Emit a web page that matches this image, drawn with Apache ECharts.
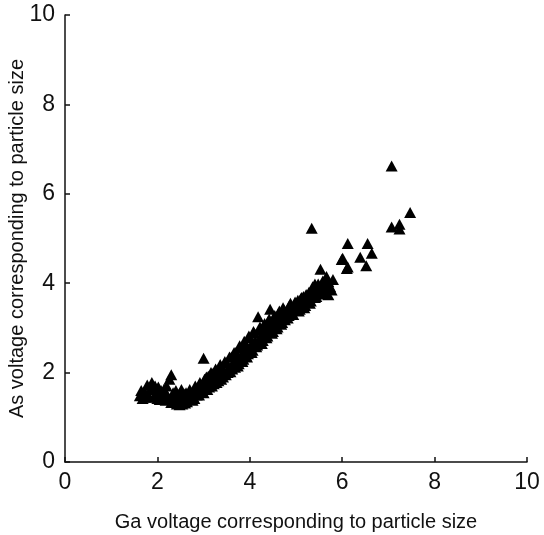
<!DOCTYPE html>
<html>
<head>
<meta charset="utf-8">
<script src="https://cdn.jsdelivr.net/npm/echarts@6/dist/echarts.min.js"></script>
<style>html,body{margin:0;padding:0;background:#fff}#c{width:544px;height:535px}</style>
</head>
<body>
<div id="c"></div>
<script>
// [Ga voltage, As voltage]
var lowCluster = [[1.62,1.48],[1.68,1.42],[1.72,1.58],[1.78,1.72],[1.80,1.50],[1.85,1.62],[1.88,1.78],[1.92,1.45],[1.97,1.55],[2.02,1.68],[2.05,1.40],[2.10,1.52],[2.14,1.62],[2.18,1.38],[2.22,1.48],[2.26,1.85],[2.30,1.95],[2.30,1.33],[2.34,1.55],[2.38,1.42],[2.42,1.30],[2.46,1.50],[2.50,1.38],[2.52,1.62],[2.56,1.45],[2.60,1.32],[2.62,1.55],[2.66,1.42],[2.70,1.62],[2.72,1.48],[2.76,1.38],[2.78,1.58],[2.82,1.70],[2.85,1.50],[2.88,1.62],
  [1.65,1.60],[1.75,1.45],[1.95,1.70],[2.00,1.42],[2.08,1.60],[2.15,1.45],[2.20,1.70],[2.28,1.40],[2.35,1.35],[2.40,1.60],[2.44,1.40],[2.48,1.28],[2.54,1.30],[2.58,1.52],[2.64,1.35],[2.68,1.55],[2.74,1.45],[2.80,1.42],[2.84,1.62],[2.90,1.50],[2.94,1.70]];
var midBand = [[2.92,1.78],[2.95,1.58],[2.98,1.68],[3.00,2.32],[3.02,1.85],[3.05,1.72],[3.08,1.62],[3.10,1.92],[3.14,1.80],[3.18,1.70],[3.20,1.98],[3.24,1.86],[3.28,1.78],[3.30,2.05],[3.34,1.95],[3.38,1.85],[3.40,2.12],[3.44,2.02],[3.48,1.95],[3.50,2.22],[3.54,2.10],[3.58,2.02],[3.60,2.35],[3.64,2.22],[3.68,2.12],[3.70,2.45],[3.72,2.30],[3.76,2.20],[3.80,2.55],[3.82,2.40],[3.86,2.30],[3.90,2.65],[3.92,2.50],[3.96,2.42],[4.00,2.78],[4.02,2.60],
  [3.00,1.55],[3.04,1.62],[3.06,1.90],[3.12,1.68],[3.16,2.00],[3.22,1.75],[3.26,2.08],[3.32,1.82],[3.36,2.18],[3.42,1.90],[3.46,2.25],[3.52,2.00],[3.56,2.35],[3.62,2.08],[3.66,2.45],[3.74,2.15],[3.78,2.60],[3.84,2.25],[3.88,2.70],[3.94,2.35],[3.98,2.82]];
var upperBand = [[4.06,2.50],[4.10,2.88],[4.12,2.70],[4.16,2.62],[4.18,3.25],[4.20,2.95],[4.24,2.80],[4.28,2.72],[4.30,3.05],[4.34,2.92],[4.38,2.82],[4.40,3.15],[4.44,3.42],[4.46,3.00],[4.50,2.92],[4.52,3.22],[4.56,3.10],[4.60,3.02],[4.62,3.32],[4.66,3.20],[4.70,3.12],[4.74,3.40],[4.78,3.30],[4.82,3.22],[4.86,3.50],[4.90,3.38],[4.94,3.30],[4.98,3.58],
  [4.04,2.45],[4.08,2.92],[4.14,2.58],[4.22,3.02],[4.26,2.65],[4.32,3.10],[4.36,2.78],[4.42,3.20],[4.48,2.88],[4.54,3.28],[4.58,2.98],[4.64,3.38],[4.68,3.08],[4.72,3.45],[4.76,3.18],[4.84,3.28],[4.88,3.55],[4.96,3.40]];
var topBand = [[5.02,3.45],[5.06,3.38],[5.10,3.65],[5.12,3.68],[5.14,3.52],[5.18,3.45],[5.22,3.75],[5.26,3.62],[5.30,3.55],[5.34,3.85],[5.38,3.72],[5.41,3.98],[5.41,3.68],[5.46,3.80],[5.50,3.90],[5.53,4.31],[5.56,3.96],[5.60,3.82],[5.63,3.85],[5.66,4.15],[5.70,4.03],[5.70,3.74],[5.74,3.92],[5.77,3.85],[5.80,4.08],
  [5.04,3.62],[5.08,3.42],[5.16,3.70],[5.20,3.50],[5.28,3.80],[5.32,3.60],[5.36,3.92],[5.44,3.70],[5.48,3.98],[5.52,3.78],[5.58,4.05],[5.62,3.76],[5.68,3.88]];
var outliers = [[5.34,5.23],[5.99,4.53],[6.01,4.56],[6.10,4.33],[6.12,4.36],[6.12,4.89],[6.39,4.58],[6.52,4.39],[6.55,4.89],[6.64,4.67],[7.07,6.62],[7.07,5.26],[7.24,5.32],[7.24,5.21],[7.47,5.58]];

var allPoints = lowCluster.concat(midBand, upperBand, topBand, outliers);
var chart = echarts.init(document.getElementById('c'));
var font = 'Liberation Sans, Arial, sans-serif';
function axis(extra) {
  return echarts.util.merge({
    type: 'value', min: 0, max: 10, interval: 2,
    axisLine: {show: true, lineStyle: {color: '#111', width: 1.5}},
    axisTick: {show: true, inside: true, length: 5, lineStyle: {color: '#111', width: 1.5}},
    splitLine: {show: false},
    axisLabel: {color: '#111', fontSize: 23, fontFamily: font},
    nameLocation: 'middle',
    nameMoveOverlap: false,
    nameTextStyle: {color: '#111', fontSize: 20, fontFamily: font}
  }, extra, true);
}
chart.setOption({
  backgroundColor: '#fff',
  animation: false,
  grid: {left: 65, right: 17, top: 15, bottom: 73, outerBoundsMode: 'none', containLabel: false},
  xAxis: axis({
    name: 'Ga voltage corresponding to particle size',
    nameGap: 50,
    axisLabel: {margin: 9}
  }),
  yAxis: axis({
    name: 'As voltage corresponding to particle size',
    nameGap: 38,
    axisLabel: {margin: 10}
  }),
  series: [{
    type: 'scatter',
    symbol: 'triangle',
    symbolSize: [12, 11],
    itemStyle: {color: '#000', opacity: 1},
    data: allPoints
  }]
});
</script>
</body>
</html>
